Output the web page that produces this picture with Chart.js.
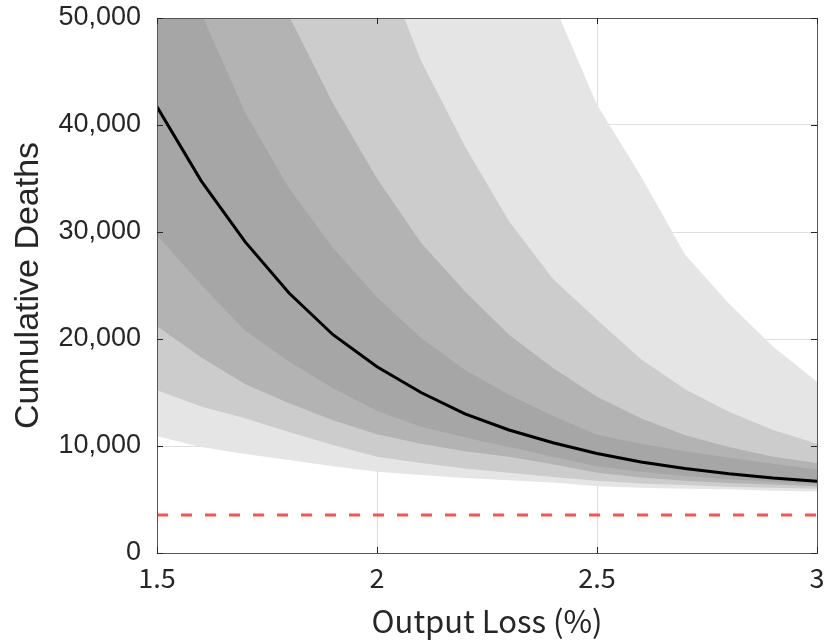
<!DOCTYPE html>
<html>
<head>
<meta charset="utf-8">
<script src="https://cdn.jsdelivr.net/npm/chart.js@4.4.1/dist/chart.umd.min.js"></script>
<style>
  html, body { margin: 0; padding: 0; background: #ffffff; }
  #wrap { width: 825px; height: 642px; position: relative; }
</style>
</head>
<body>
<div id="wrap"><canvas id="c" width="825" height="642"></canvas></div>
<script>
// ---- Data ----
const outputLoss = [1.5, 1.6, 1.7, 1.8, 1.9, 2.0, 2.1, 2.2, 2.3, 2.4, 2.5, 2.6, 2.7, 2.8, 2.9, 3.0];
const medianDeaths = [41700, 34800, 29100, 24300, 20400, 17400, 15000, 13000, 11500, 10300, 9300, 8500, 7900, 7400, 7000, 6700];
// band edges: inner (darkest) band 1 ... outer (lightest) band 4
const upper1 = [60000, 50500, 41200, 34100, 28500, 23900, 20100, 17100, 14800, 12800, 11050, 10200, 9500, 8900, 8350, 7800];
const lower1 = [29700, 25100, 20800, 17900, 15400, 13300, 11800, 10800, 9900, 9000, 8100, 7600, 7200, 6900, 6650, 6450];
const upper2 = [85000, 72000, 60000, 50200, 42000, 35000, 29000, 24450, 20400, 17300, 14600, 12600, 11000, 9900, 9000, 8400];
const lower2 = [21200, 18300, 15800, 14000, 12400, 11100, 10200, 9500, 9000, 8300, 7500, 7050, 6750, 6550, 6400, 6250];
const upper3 = [110000, 95000, 82000, 72000, 64000, 56500, 46000, 38000, 31000, 25600, 21800, 18100, 15300, 13200, 11500, 10200];
const lower3 = [15200, 13700, 12600, 11300, 10100, 9000, 8400, 7900, 7500, 7100, 6750, 6500, 6350, 6200, 6100, 6000];
const upper4 = [150000, 135000, 120000, 107000, 96000, 86000, 77000, 69000, 61000, 51500, 41900, 35200, 27900, 23300, 19300, 16000];
const lower4 = [10900, 9900, 9250, 8700, 8100, 7600, 7300, 7000, 6800, 6600, 6250, 6100, 6000, 5950, 5820, 5750];
const referenceLevel = [3550, 3550];
const referenceX = [1.5, 3.0];
const xTicks = [1.5, 2, 2.5, 3];
const yTicks = [0, 10000, 20000, 30000, 40000, 50000];
const xTitle = 'Output Loss (%)';
const yTitle = 'Cumulative Deaths';

const pts = (xs, ys) => xs.map((x, i) => ({ x: x, y: ys[i] }));

const bandColors = ['#a6a6a6', '#b3b3b3', '#cccccc', '#e5e5e5'];
const uppers = [upper1, upper2, upper3, upper4];
const lowers = [lower1, lower2, lower3, lower4];

const datasets = [
  { label: 'median', data: pts(outputLoss, medianDeaths), borderColor: '#000000', borderWidth: 3, pointRadius: 0, fill: false, tension: 0 },
  { label: 'reference', data: pts(referenceX, referenceLevel), borderColor: '#ff5050', borderWidth: 3, borderDash: [11, 13], pointRadius: 0, fill: false, tension: 0 }
];
for (let k = 0; k < 4; k++) {
  const idxU = datasets.length;
  datasets.push({ label: 'upper' + (k + 1), data: pts(outputLoss, uppers[k]), borderWidth: 0, borderColor: 'rgba(0,0,0,0)', pointRadius: 0, backgroundColor: bandColors[k], fill: { target: idxU + 1 }, tension: 0 });
  datasets.push({ label: 'lower' + (k + 1), data: pts(outputLoss, lowers[k]), borderWidth: 0, borderColor: 'rgba(0,0,0,0)', pointRadius: 0, fill: false, tension: 0 });
}

const boxPlugin = {
  id: 'boxTicks',
  afterDatasetsDraw(chart) {
    const { ctx, chartArea: a, scales } = chart;
    ctx.save();
    ctx.strokeStyle = '#555555';
    ctx.lineWidth = 1;
    ctx.strokeRect(Math.round(a.left) + 0.5, Math.round(a.top) + 0.5, Math.round(a.right - a.left), Math.round(a.bottom - a.top));
    ctx.strokeStyle = '#262626';
    ctx.beginPath();
    const L = 6;
    yTicks.forEach(v => {
      const y = Math.round(scales.y.getPixelForValue(v)) + 0.5;
      ctx.moveTo(a.left, y); ctx.lineTo(a.left + L, y);
      ctx.moveTo(a.right, y); ctx.lineTo(a.right - L, y);
    });
    xTicks.forEach(v => {
      const x = Math.round(scales.x.getPixelForValue(v)) + 0.5;
      ctx.moveTo(x, a.bottom); ctx.lineTo(x, a.bottom - L);
      ctx.moveTo(x, a.top); ctx.lineTo(x, a.top + L);
    });
    ctx.stroke();
    ctx.restore();
  }
};

new Chart(document.getElementById('c'), {
  type: 'line',
  data: { datasets: datasets },
  options: {
    responsive: false,
    animation: false,
    events: [],
    layout: { padding: { top: 18, right: 8, left: 0, bottom: 0 } },
    plugins: { legend: { display: false }, tooltip: { enabled: false } },
    scales: {
      x: {
        type: 'linear', min: 1.5, max: 3,
        afterBuildTicks(s) { s.ticks = xTicks.map(v => ({ value: v })); },
        afterFit(s) { s.height = 89; s.paddingLeft = 0; s.paddingRight = 0; },
        grid: { color: '#dedede', drawTicks: false },
        border: { display: false },
        ticks: { color: '#262626', padding: 9, maxRotation: 0, callback: v => String(v), font: { family: 'Noto Sans CJK JP', size: 27 } },
        title: { display: true, text: xTitle, color: '#262626', padding: { top: 0, bottom: 2 }, font: { family: 'Noto Sans CJK JP', size: 31 } }
      },
      y: {
        type: 'linear', min: 0, max: 50000,
        afterBuildTicks(s) { s.ticks = yTicks.map(v => ({ value: v })); },
        afterFit(s) { s.width = 157; s.paddingTop = 0; s.paddingBottom = 0; },
        grid: { color: '#dedede', drawTicks: false },
        border: { display: false },
        ticks: { color: '#262626', padding: 16, font: { family: 'Liberation Sans', size: 27 } },
        title: { display: true, text: yTitle, color: '#262626', padding: { top: 8, bottom: 0 }, font: { family: 'Liberation Sans', size: 34 } }
      }
    }
  },
  plugins: [boxPlugin]
});
</script>
</body>
</html>
